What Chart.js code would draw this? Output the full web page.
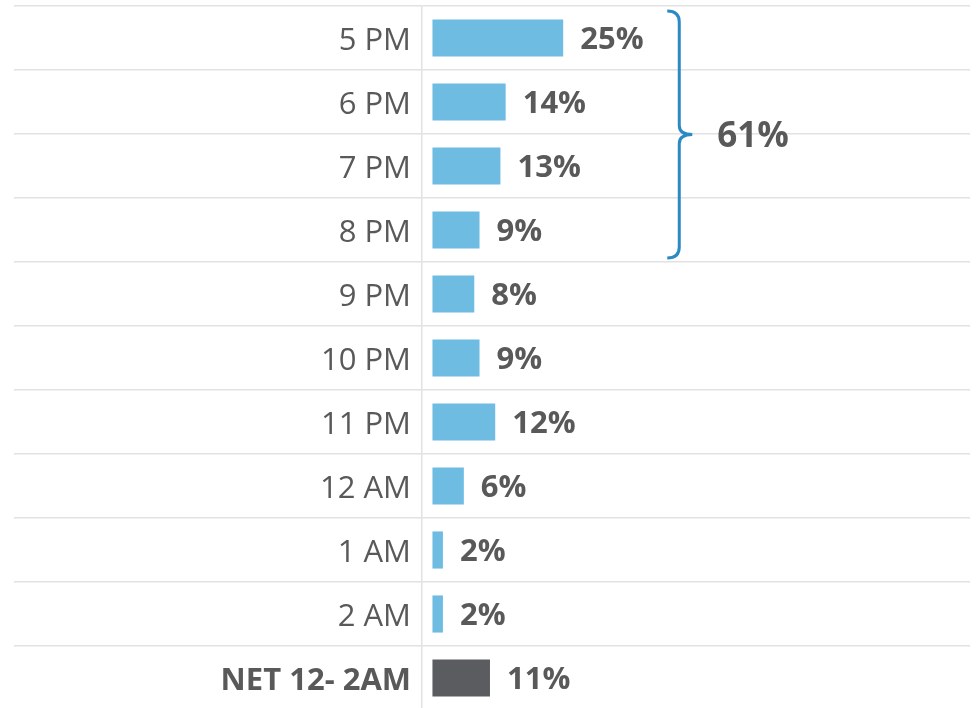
<!DOCTYPE html>
<html>
<head>
<meta charset="utf-8">
<script src="https://cdn.jsdelivr.net/npm/chart.js@4.4.0/dist/chart.umd.min.js"></script>
<style>
  html, body { margin: 0; padding: 0; background: #fff; overflow: hidden; }
  #wrap { position: absolute; left: 0; top: 0; width: 976px; height: 712px; }
</style>
</head>
<body>
<div id="wrap"><canvas id="myChart"></canvas></div>
<script>
  // Share of viewing by hour
  const hours = ['5 PM', '6 PM', '7 PM', '8 PM', '9 PM', '10 PM', '11 PM', '12 AM', '1 AM', '2 AM', 'NET 12- 2AM'];
  const shares = [25, 14, 13, 9, 8, 9, 12, 6, 2, 2, 11];
  const barColors = ['#6ebce2', '#6ebce2', '#6ebce2', '#6ebce2', '#6ebce2', '#6ebce2',
                     '#6ebce2', '#6ebce2', '#6ebce2', '#6ebce2', '#5b5c60'];

  // evening peak bracket
  const peakFirst = 0;
  const peakLast = 3;

  const textGrey = '#595959';
  const lineGrey = '#e2e2e2';
  const fontFamily = '"Open Sans", "Liberation Sans", sans-serif';

  const valueLabels = {
    id: 'value_labels',
    afterDatasetsDraw: (chart) => {
      const ctx = chart.ctx;
      const meta = chart.getDatasetMeta(0);
      ctx.save();
      ctx.font = 'bold 31px ' + fontFamily;
      ctx.fillStyle = textGrey;
      ctx.textAlign = 'left';
      ctx.textBaseline = 'middle';
      meta.data.forEach((bar, i) => {
        ctx.fillText(shares[i] + '%', bar.x + 17, bar.y + 2.5);
      });
      ctx.restore();
    }
  };

  const peakBrace = {
    id: 'peak_brace',
    afterDraw: (chart) => {
      const ctx = chart.ctx;
      const y = chart.scales.y;
      const x = chart.scales.x;
      const half = (y.getPixelForValue(1) - y.getPixelForValue(0)) / 2;
      const top = y.getPixelForValue(peakFirst) - half + 5;
      const bottom = y.getPixelForValue(peakLast) + half - 4;
      const mid = (top + bottom) / 2;
      const xb = x.getPixelForValue(47.2);
      const xe = xb - 12;
      const xt = xb + 13;

      ctx.save();
      ctx.strokeStyle = '#2b8ac4';
      ctx.lineWidth = 3;
      ctx.beginPath();
      ctx.moveTo(xe, top);
      ctx.quadraticCurveTo(xb, top, xb, top + 11);
      ctx.lineTo(xb, mid - 9);
      ctx.quadraticCurveTo(xb, mid, xt, mid);
      ctx.quadraticCurveTo(xb, mid, xb, mid + 9);
      ctx.lineTo(xb, bottom - 11);
      ctx.quadraticCurveTo(xb, bottom, xe, bottom);
      ctx.stroke();

      // total of the bracketed hours
      let total = 0;
      for (let i = peakFirst; i <= peakLast; i++) total += shares[i];
      ctx.font = 'bold 35px ' + fontFamily;
      ctx.fillStyle = textGrey;
      ctx.textAlign = 'left';
      ctx.textBaseline = 'middle';
      ctx.fillText(total + '%', xt + 25, mid + 3);
      ctx.restore();
    }
  };

  const config = {
    type: 'bar',
    data: {
      labels: hours,
      datasets: [{
        data: shares,
        backgroundColor: barColors,
        borderWidth: 0,
        barPercentage: 0.58,
        categoryPercentage: 1
      }]
    },
    options: {
      indexAxis: 'y',
      animation: false,
      responsive: true,
      maintainAspectRatio: false,
      layout: { padding: { left: 0, right: 6, top: 6, bottom: 2 } },
      plugins: {
        legend: { display: false },
        tooltip: { enabled: false }
      },
      scales: {
        x: {
          display: false,
          min: -2,
          max: 102.8
        },
        y: {
          afterFit: (scale) => { scale.width = 422; },
          border: { display: true, color: lineGrey, width: 1.5 },
          grid: {
            offset: true,
            color: lineGrey,
            lineWidth: 1.5,
            drawTicks: true,
            tickLength: 408
          },
          ticks: {
            padding: -397,
            labelOffset: 3,
            color: textGrey,
            font: (c) => ({
              family: fontFamily,
              size: 31,
              weight: c.index === hours.length - 1 ? 'bold' : 'normal'
            })
          }
        }
      }
    },
    plugins: [valueLabels, peakBrace]
  };

  const myChart = new Chart(document.getElementById('myChart'), config);
</script>
</body>
</html>
